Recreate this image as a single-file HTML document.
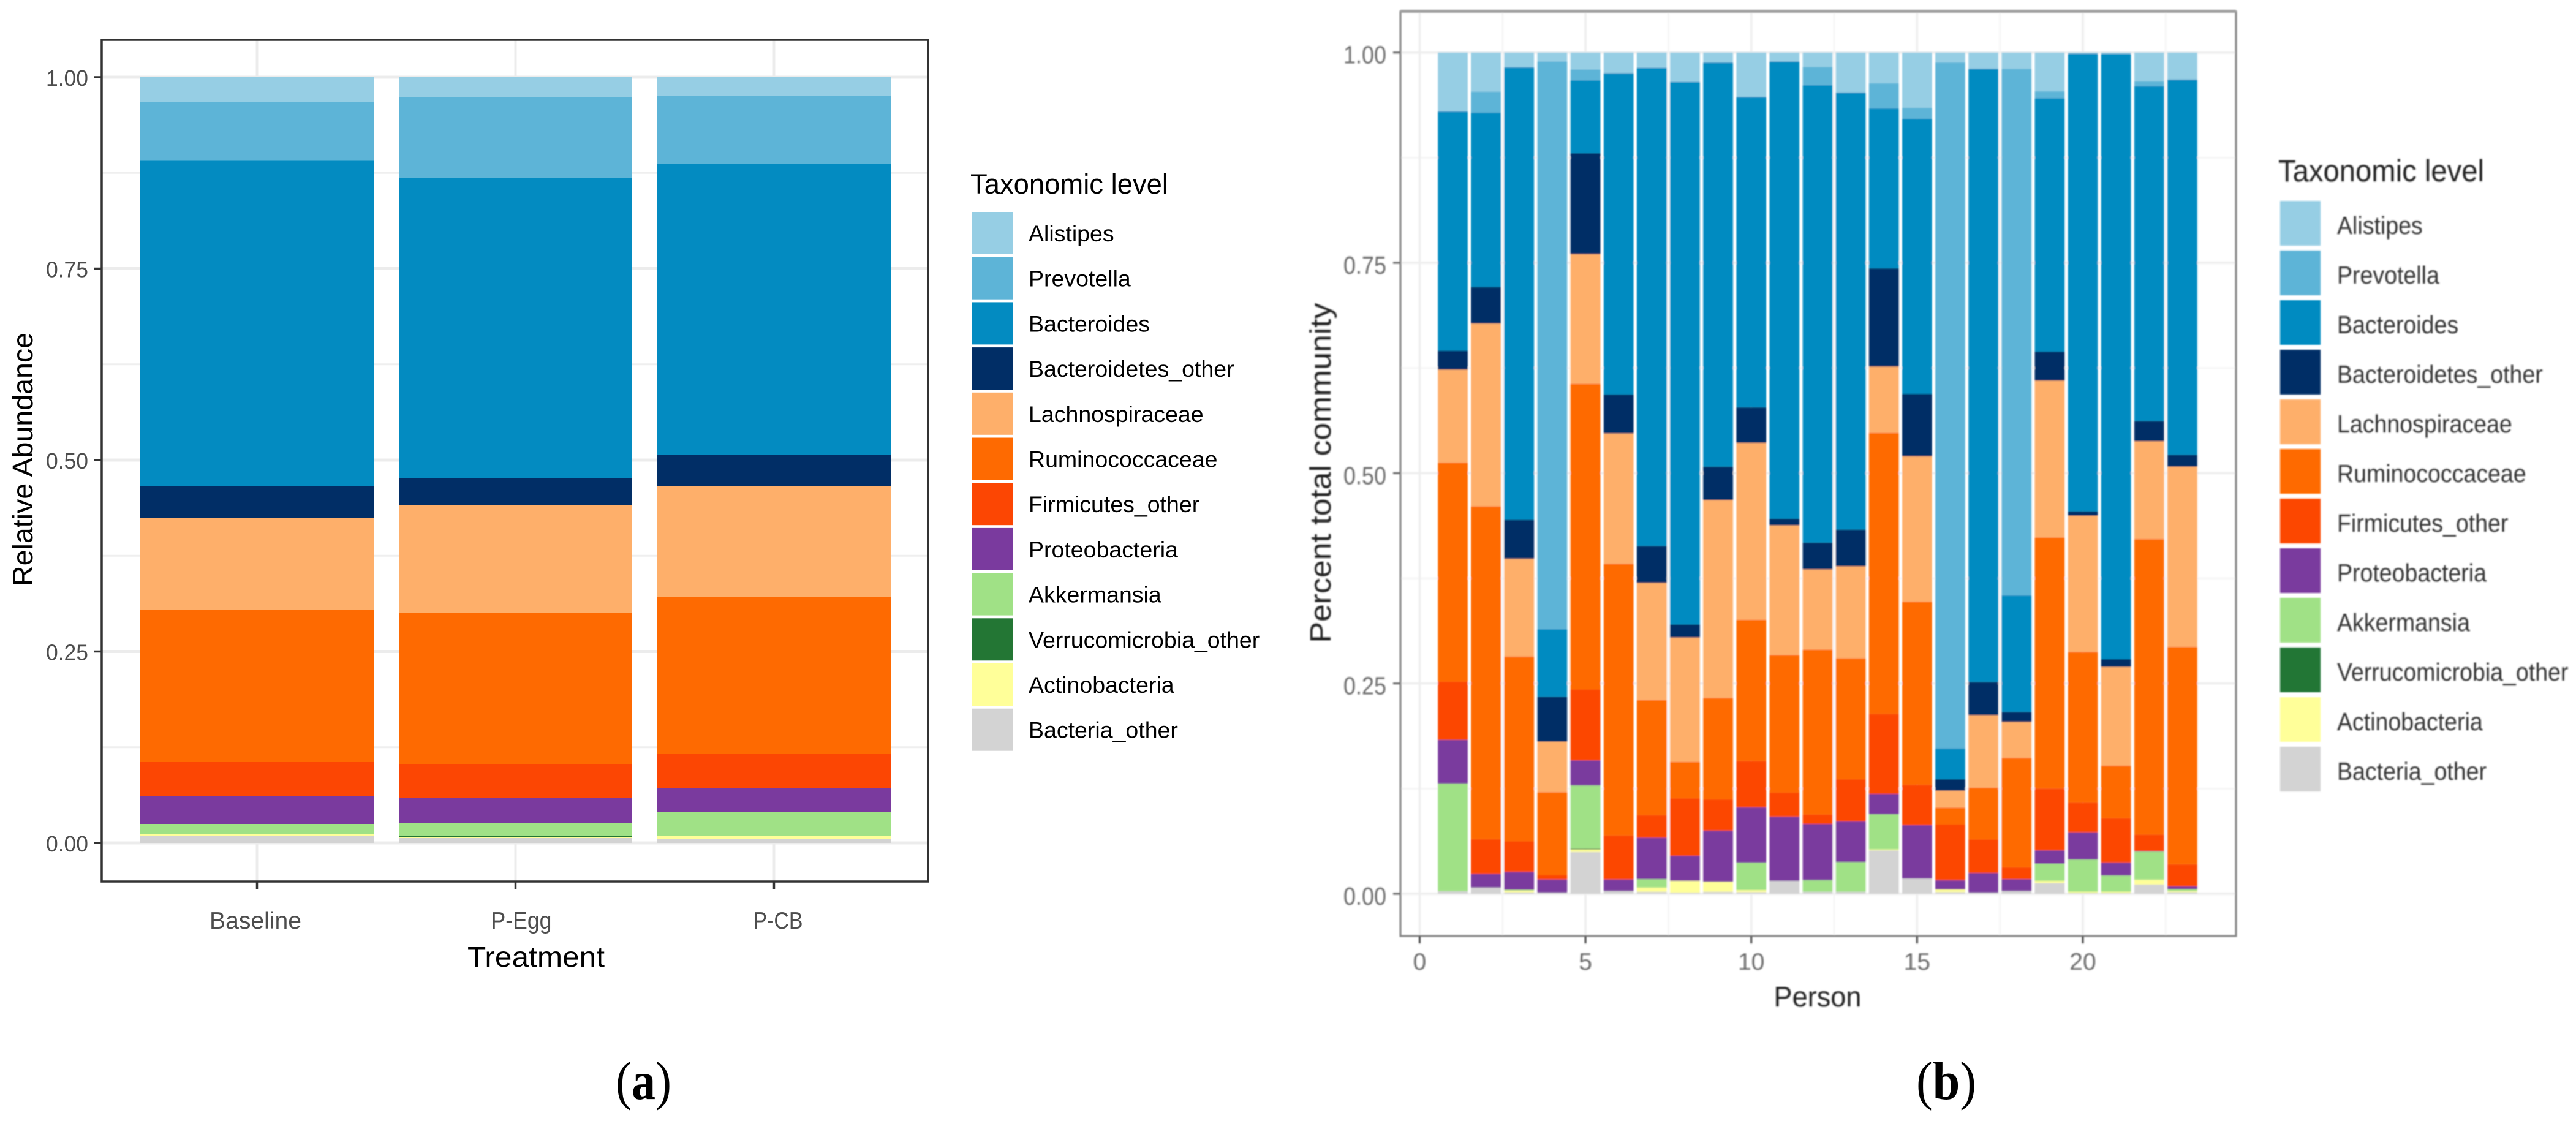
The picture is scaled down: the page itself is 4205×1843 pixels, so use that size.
<!DOCTYPE html>
<html lang="en">
<head>
<meta charset="utf-8">
<title>Relative abundance stacked bar charts</title>
<style>
html,body{margin:0;padding:0;background:#fff;width:4205px;height:1843px;overflow:hidden}
svg{display:block;font-family:"Liberation Sans",sans-serif}
.cap{font-family:"Liberation Serif",serif}
</style>
</head>
<body>
<svg id="figure" xmlns="http://www.w3.org/2000/svg" width="4205" height="1843" viewBox="0 0 4205 1843">
<defs><filter id="soft" x="-2%" y="-2%" width="104%" height="104%"><feGaussianBlur stdDeviation="1.1"/></filter></defs>
<rect width="4205" height="1843" fill="#fff"/>
<g id="panelA"></g>
<g id="panelB" filter="url(#soft)"></g>
<text class="cap" x="1005" y="1794" font-size="88" textLength="91" lengthAdjust="spacingAndGlyphs">(<tspan font-weight="bold">a</tspan>)</text>
<text class="cap" x="3128" y="1794" font-size="88" textLength="98" lengthAdjust="spacingAndGlyphs">(<tspan font-weight="bold">b</tspan>)</text>
</svg>
<script>
const taxa = ["Alistipes","Prevotella","Bacteroides","Bacteroidetes_other","Lachnospiraceae","Ruminococcaceae","Firmicutes_other","Proteobacteria","Akkermansia","Verrucomicrobia_other","Actinobacteria","Bacteria_other"];
const colors = ["#96cee4","#5db4d7","#038bc1","#012e66","#feaf6a","#fe6a01","#fc4603","#7a3a9e","#a0e186","#237634","#ffff99","#d3d3d3"];

/* Panel (a): one value per treatment */
const treatments = ["Baseline","P-Egg","P-CB"];
const aAlistipes = [.032,.0262,.0248];
const aPrevotella = [.077,.1052,.0882];
const aBacteroides = [.4244,.3918,.3796];
const aBacteroidetesOther = [.0426,.0352,.0408];
const aLachnospiraceae = [.12,.1416,.145];
const aRuminococcaceae = [.1984,.1966,.2056];
const aFirmicutesOther = [.0448,.045,.0448];
const aProteobacteria = [.036,.0328,.0312];
const aAkkermansia = [.0126,.0168,.0304];
const aVerrucomicrobiaOther = [0,.001,.0008];
const aActinobacteria = [.0026,.0012,.0032];
const aBacteriaOther = [.0096,.0066,.0056];
const aTicks = [0,.25,.5,.75,1];
const aTickLabels = ["0.00","0.25","0.50","0.75","1.00"];
const aMinorTicks = [.125,.375,.625,.875];

/* Panel (b): one value per person, persons 1..23 */
const persons = [1,2,3,4,5,6,7,8,9,10,11,12,13,14,15,16,17,18,19,20,21,22,23];
const bAlistipes = [.07,.0465,.0175,.0108,.0201,.0246,.0182,.035,.0119,.0528,.0108,.0171,.0476,.0364,.0658,.0119,.0193,.0193,.0461,.0012,.0015,.0342,.0323];
const bPrevotella = [0,.0249,0,.6747,.013,0,0,0,0,0,0,.0216,0,.0301,.013,.8155,0,.6261,.0082,0,0,.0056,0];
const bBacteroides = [.2845,.2073,.538,.0802,.0866,.3819,.5684,.6449,.4804,.3689,.5435,.5439,.5194,.19,.327,.0364,.729,.1385,.3013,.5442,.7196,.3983,.4459];
const bBacteroidetesOther = [.0225,.0435,.0464,.0535,.12,.0464,.0439,.0156,.0398,.0423,.0078,.0319,.0438,.1169,.0742,.0137,.0394,.0119,.0345,.0052,.0093,.0241,.0141];
const bLachnospiraceae = [.1105,.2173,.1163,.0602,.1542,.1549,.1393,.1479,.2351,.2103,.1542,.0952,.1093,.0788,.1728,.0201,.0862,.0427,.1865,.162,.1174,.1163,.2143];
const bRuminococcaceae = [.2605,.3956,.2195,.0984,.3633,.3229,.1367,.0431,.1207,.1679,.1635,.1961,.1438,.334,.2177,.0201,.0616,.1301,.2984,.1791,.0624,.3511,.2583];
const bFirmicutesOther = [.069,.0413,.0364,.0053,.0843,.0524,.0268,.0684,.0372,.055,.0286,.0112,.0501,.0951,.0479,.0661,.0398,.0141,.0735,.0353,.0528,.0197,.0263];
const bProteobacteria = [.052,.0163,.0212,.0156,.0297,.0137,.0494,.0297,.0606,.0658,.0762,.0668,.0483,.0241,.0635,.0111,.0234,.0141,.0157,.0323,.0153,.0006,.0034];
const bAkkermansia = [.128,0,.001,0,.0751,0,.01,0,0,.0327,0,.0138,.0353,.042,0,0,0,0,.0204,.0383,.0193,.0335,.0022];
const bVerrucomicrobiaOther = [0,0,0,0,.0011,0,0,0,0,0,0,0,0,0,0,0,0,0,0,0,0,0,0];
const bActinobacteria = [0,0,.002,0,.003,0,.0049,.0141,.0119,.0023,0,0,0,.001,0,.0031,0,0,.0026,.0014,.0014,.0056,.0012];
const bBacteriaOther = [.003,.0073,.0017,.0013,.0496,.0032,.0024,.0013,.0024,.002,.0154,.0024,.0024,.0516,.0181,.002,.0013,.0032,.0128,.001,.001,.011,.002];
const bYTicks = [0,.25,.5,.75,1];
const bYTickLabels = ["0.00","0.25","0.50","0.75","1.00"];
const bYMinorTicks = [.125,.375,.625,.875];
const bXTicks = [0,5,10,15,20];
const bXMinorTicks = [2.5,7.5,12.5,17.5,22.5];

const aSeries = [aAlistipes,aPrevotella,aBacteroides,aBacteroidetesOther,aLachnospiraceae,aRuminococcaceae,aFirmicutesOther,aProteobacteria,aAkkermansia,aVerrucomicrobiaOther,aActinobacteria,aBacteriaOther];
const bSeries = [bAlistipes,bPrevotella,bBacteroides,bBacteroidetesOther,bLachnospiraceae,bRuminococcaceae,bFirmicutesOther,bProteobacteria,bAkkermansia,bVerrucomicrobiaOther,bActinobacteria,bBacteriaOther];

const NS = "http://www.w3.org/2000/svg";
function mk(parent, tag, attrs, txt) {
  const el = document.createElementNS(NS, tag);
  for (const k in attrs) el.setAttribute(k, attrs[k]);
  if (txt !== undefined) el.textContent = txt;
  parent.appendChild(el);
  return el;
}
function line(parent, x1, y1, x2, y2, stroke, w, name) {
  const el = mk(parent, "line", {x1, y1, x2, y2, stroke, "stroke-width": w});
  
  
  return el;
}
function label(parent, x, y, str, size, fill, anchor, name, len) {
  const attrs = {x, y, "font-size": size, fill, "text-anchor": anchor};
  if (len) { attrs.textLength = len; attrs.lengthAdjust = "spacingAndGlyphs"; }
  const el = mk(parent, "text", attrs, str);
  
  
  return el;
}
function swatchRect(parent, x, y, w, h, fill, name) {
  const el = mk(parent, "rect", {x, y, width: w, height: h, fill});
  
  
  return el;
}
/* stacked to 1 (position = fill): last taxon sits on the baseline */
function drawStack(parent, series, count, barX, barW, yScale, prefix, labelOf) {
  for (let i = 0; i < count; i++) {
    let total = 0;
    for (const s of series) total += s[i];
    let cum = 0;
    for (let t = series.length - 1; t >= 0; t--) {
      const v = series[t][i] / total;
      if (v > 0) {
        const top = yScale(cum + v), bottom = yScale(cum);
        swatchRect(parent, barX(i) - barW / 2, top, barW, bottom - top, colors[t],
          prefix + "-bar-" + labelOf(i) + "-" + taxa[t].toLowerCase().replace(/_/g, "-"));
      }
      cum += v;
    }
  }
}
function drawLegend(parent, cfg) {
  label(parent, cfg.titleX, cfg.titleY, "Taxonomic level", cfg.titleSize, cfg.titleFill, "start", "legend-title", cfg.titleLen);
  taxa.forEach((name, i) => {
    const y = cfg.y0 + i * cfg.pitch;
    swatchRect(parent, cfg.x, y, cfg.w, cfg.h, colors[i], "legend-swatch-" + name.toLowerCase().replace(/_/g, "-"));
    const t = label(parent, cfg.textX, y + cfg.h / 2 + cfg.baseOff, name, cfg.textSize, cfg.textFill, "start", "legend-label-" + name.toLowerCase().replace(/_/g, "-"));
    if (cfg.textSqueeze) {
      t.setAttribute("textLength", t.getComputedTextLength() * cfg.textSqueeze);
      t.setAttribute("lengthAdjust", "spacingAndGlyphs");
    }
  });
}

/* ---------- Panel (a) ---------- */
(function () {
  const g = document.getElementById("panelA");
  const L = 166, R = 1515, T = 65, B = 1439;
  const yA = v => 1376 - 1250 * v;
  const xA = i => 419.5 + 422 * i;
  aMinorTicks.forEach(v => line(g, L, yA(v), R, yA(v), "#efefef", 3, "grid-minor-y"));
  aTicks.forEach(v => line(g, L, yA(v), R, yA(v), "#ececec", 5, "grid-major-y"));
  treatments.forEach((t, i) => line(g, xA(i), T, xA(i), B, "#ececec", 4, "grid-x"));
  const bars = mk(g, "g", {"shape-rendering": "crispEdges"});
  
  
  drawStack(bars, aSeries, treatments.length, xA, 381, yA, "a", i => treatments[i].toLowerCase());
  const frame = mk(g, "rect", {x: L, y: T, width: R - L, height: B - T, fill: "none", stroke: "#333", "stroke-width": 3.5});
  
  
  aTicks.forEach((v, i) => {
    line(g, 153, yA(v), L, yA(v), "#333", 3.5, "y-tick");
    label(g, 144, yA(v) + 14, aTickLabels[i], 36, "#4d4d4d", "end", "y-tick-label", 69);
  });
  const xLabelCentres = [417, 851, 1270];
  const xLabelWidths = [150, 99, 81];
  treatments.forEach((t, i) => {
    line(g, xA(i), B, xA(i), 1451, "#333", 3.5, "x-tick");
    label(g, xLabelCentres[i], 1516, t, 39, "#4d4d4d", "middle", "x-tick-label", xLabelWidths[i]);
  });
  label(g, 875, 1578, "Treatment", 46, "#000", "middle", "x-axis-title", 224);
  const yt = label(g, 0, 0, "Relative Abundance", 46, "#000", "middle", "y-axis-title", 414);
  yt.setAttribute("transform", "translate(53,750) rotate(-90)");
  drawLegend(g, {titleX: 1584, titleY: 316, titleSize: 45, titleFill: "#000", titleLen: 323,
    x: 1587, y0: 346, w: 67, h: 69, pitch: 73.7, textX: 1679, textSize: 37.5, textFill: "#000", baseOff: 13.5});
})();

/* ---------- Panel (b) ---------- */
(function () {
  const g = document.getElementById("panelB");
  const L = 2286, R = 3650, T = 19, B = 1528;
  const yB = v => 1459 - 1373.3 * v;
  const xB = v => 2317.4 + 54.13 * v;
  bYMinorTicks.forEach(v => line(g, L, yB(v), R, yB(v), "#f4f4f4", 2.5, "grid-minor-y"));
  bYTicks.forEach(v => line(g, L, yB(v), R, yB(v), "#eeeeee", 3.5, "grid-major-y"));
  bXMinorTicks.forEach(v => line(g, xB(v), T, xB(v), B, "#f4f4f4", 2.5, "grid-minor-x"));
  bXTicks.forEach(v => line(g, xB(v), T, xB(v), B, "#eeeeee", 3.5, "grid-major-x"));
  const bars = mk(g, "g", {});
  
  
  drawStack(bars, bSeries, persons.length, i => xB(persons[i]), 48.7, yB, "b", i => "person-" + persons[i]);
  const frame = mk(g, "rect", {x: L, y: T, width: R - L, height: B - T, fill: "none", stroke: "#808080", "stroke-width": 3});
  
  
  line(g, L, 18.5, R, 18.5, "#a0a0a0", 5, "plot-border-b-top");
  bYTicks.forEach((v, i) => {
    line(g, 2274, yB(v), L, yB(v), "#666", 3, "y-tick");
    label(g, 2263, yB(v) + 18, bYTickLabels[i], 41, "#6a6a6a", "end", "y-tick-label", 70);
  });
  bXTicks.forEach(v => {
    line(g, xB(v), B, xB(v), 1540, "#444", 3, "x-tick");
    label(g, xB(v), 1583, String(v), 39, "#6a6a6a", "middle", "x-tick-label");
  });
  label(g, 2967, 1643, "Person", 46, "#222", "middle", "x-axis-title", 143);
  const yt = label(g, 0, 0, "Percent total community", 48, "#222", "middle", "y-axis-title", 555);
  yt.setAttribute("transform", "translate(2172,772) rotate(-90)");
  drawLegend(g, {titleX: 3719, titleY: 296, titleSize: 50, titleFill: "#222", titleLen: 336,
    x: 3722, y0: 328, w: 66, h: 73, pitch: 81, textX: 3815, textSize: 41, textFill: "#333", baseOff: 17.5, textSqueeze: 0.915});
})();
</script>
</body>
</html>
